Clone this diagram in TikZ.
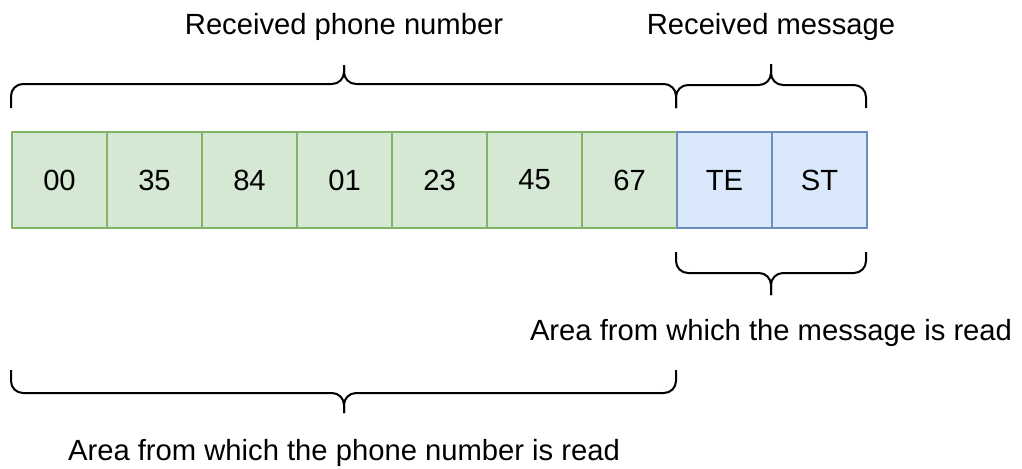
\documentclass[tikz,border=0pt]{standalone}
\usepackage{fontspec}
\setmainfont{Liberation Sans}
\begin{document}
\begin{tikzpicture}[x=0.5pt,y=-0.5pt,
  font=\fontsize{14.6pt}{17pt}\selectfont,
  cell/.style={draw, line width=1pt, minimum width=47.5pt, minimum height=48pt, inner sep=0pt, anchor=north west},
  phonecell/.style={cell, draw=phoneborder, fill=phonefill},
  msgcell/.style={cell, draw=msgborder, fill=msgfill},
  bracepath/.style={draw=black, line width=1pt, rounded corners=6pt},
  caption/.style={inner sep=0pt}]
\definecolor{phonefill}{HTML}{D5E8D4}
\definecolor{phoneborder}{HTML}{82B366}
\definecolor{msgfill}{HTML}{DAE8FC}
\definecolor{msgborder}{HTML}{6C8EBF}
\useasboundingbox (0,0) rectangle (1022,468);

% received data, one cell per pair of characters
\node[phonecell] (c1) at (11,131) {00};
\node[phonecell] (c2) at (106,131) {35};
\node[phonecell] (c3) at (201,131) {84};
\node[phonecell] (c4) at (296,131) {01};
\node[phonecell] (c5) at (391,131) {23};
\node[phonecell] (c6) at (486,131) {45};
\node[phonecell] (c7) at (581,131) {67};
\node[msgcell] (m1) at (676,131) {TE};
\node[msgcell] (m2) at (771,131) {ST};

% upper braces
\draw[bracepath] (11,108) -- (11,84) -- (344,84) -- (344,65);
\draw[bracepath] (676,108) -- (676,84) -- (344,84) -- (344,65);
\draw[bracepath] (676,108) -- (676,85) -- (771,85) -- (771,64);
\draw[bracepath] (866,108) -- (866,85) -- (771,85) -- (771,64);

% lower braces
\draw[bracepath] (676,252) -- (676,273) -- (771,273) -- (771,295);
\draw[bracepath] (866,252) -- (866,273) -- (771,273) -- (771,295);
\draw[bracepath] (11,370) -- (11,393) -- (344,393) -- (344,413);
\draw[bracepath] (676,370) -- (676,393) -- (344,393) -- (344,413);

% captions
\node[caption] (tphone) at (344,27) {Received phone number};
\node[caption] (tmsg) at (771,27) {Received message};
\node[caption] (bmsg) at (771,333) {Area from which the message is read};
\node[caption] (bphone) at (344,453) {Area from which the phone number is read};
\end{tikzpicture}
\end{document}
